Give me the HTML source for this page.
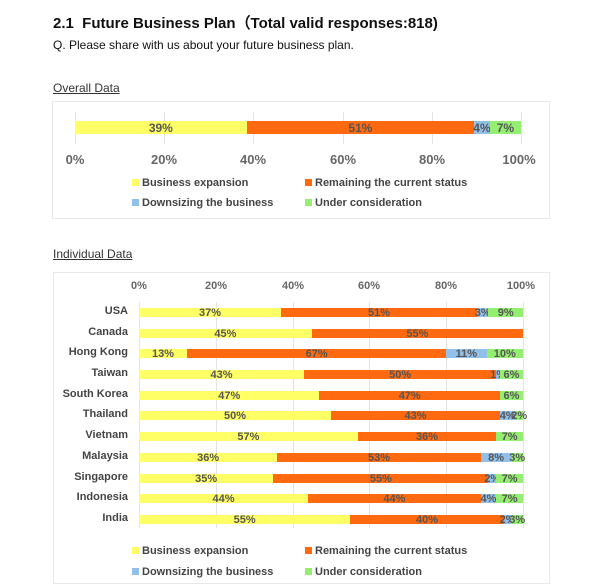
<!DOCTYPE html>
<html><head><meta charset="utf-8"><style>
body{margin:0;width:600px;height:580px;background:#fff;position:relative;overflow:hidden;font-family:"Liberation Sans","DejaVu Sans",sans-serif;color:#222}
.a{position:absolute}
.bar{position:absolute;display:flex;height:9px}
.bar div{height:100%;display:flex;align-items:center;justify-content:center;font-size:11px;font-weight:bold;color:#555;white-space:nowrap;overflow:visible}
.y{background:#ffff66}.o{background:#ff6a10}.b{background:#92c0e8}.g{background:#94ee70}
.lbl{position:absolute;right:472px;font-size:11px;font-weight:bold;color:#444;text-align:right;white-space:nowrap}
.tk{position:absolute;font-size:11px;font-weight:bold;color:#666;transform:translateX(-50%)}
.grid{position:absolute;width:1px;background:#e4e4e4}
.leg{position:absolute;font-size:11px;font-weight:bold;color:#444}
.leg i{display:inline-block;width:7px;height:7px;margin-right:3px}
</style></head><body>
<div class="a" style="left:53px;top:12px;font-size:15px;font-weight:bold;color:#111">2.1&nbsp; Future Business Plan（Total valid responses:818)</div>
<div class="a" style="left:53px;top:38px;font-size:12px;color:#111">Q. Please share with us about your future business plan.</div>
<div class="a" style="left:53px;top:81px;font-size:12px;color:#333;text-decoration:underline">Overall Data</div>
<div class="a" style="left:52px;top:101px;width:496px;height:116px;border:1px solid #e8e8e8"></div>
<div class="grid" style="left:75px;top:112px;height:32px"></div><div class="grid" style="left:164px;top:112px;height:32px"></div><div class="grid" style="left:253px;top:112px;height:32px"></div><div class="grid" style="left:343px;top:112px;height:32px"></div><div class="grid" style="left:432px;top:112px;height:32px"></div><div class="grid" style="left:521px;top:112px;height:32px"></div>
<div class="bar" style="left:75px;top:121px;width:446px;height:13px">
<div class="y" style="width:38.5%;font-size:12px">39%</div><div class="o" style="width:51%;font-size:12px">51%</div><div class="b" style="width:3.5%;font-size:12px">4%</div><div class="g" style="width:7%;font-size:12px">7%</div></div>
<div class="tk" style="left:75px;top:152px;font-size:13px">0%</div><div class="tk" style="left:164px;top:152px;font-size:13px">20%</div><div class="tk" style="left:253px;top:152px;font-size:13px">40%</div><div class="tk" style="left:343px;top:152px;font-size:13px">60%</div><div class="tk" style="left:432px;top:152px;font-size:13px">80%</div><div class="tk" style="left:519px;top:152px;font-size:13px">100%</div>
<div class="leg" style="left:132px;top:177px"><i class="y"></i>Business expansion</div>
<div class="leg" style="left:305px;top:177px"><i class="o"></i>Remaining the current status</div>
<div class="leg" style="left:132px;top:197px"><i class="b"></i>Downsizing the business</div>
<div class="leg" style="left:305px;top:197px"><i class="g"></i>Under consideration</div>

<div class="a" style="left:53px;top:247px;font-size:12px;color:#333;text-decoration:underline">Individual Data</div>
<div class="a" style="left:53px;top:272px;width:495px;height:310px;border:1px solid #e8e8e8"></div>
<div class="tk" style="left:139px;top:280px">0%</div><div class="tk" style="left:216px;top:280px">20%</div><div class="tk" style="left:293px;top:280px">40%</div><div class="tk" style="left:369px;top:280px">60%</div><div class="tk" style="left:446px;top:280px">80%</div><div class="tk" style="left:521px;top:280px">100%</div>
<div class="grid" style="left:139px;top:302px;height:226px"></div><div class="grid" style="left:216px;top:302px;height:226px"></div><div class="grid" style="left:293px;top:302px;height:226px"></div><div class="grid" style="left:369px;top:302px;height:226px"></div><div class="grid" style="left:446px;top:302px;height:226px"></div><div class="grid" style="left:523px;top:302px;height:226px"></div>

<div class="lbl" style="top:305px">USA</div>
<div class="bar" style="left:139px;top:308px;width:384px"><div class="y" style="width:37%">37%</div><div class="o" style="width:51%">51%</div><div class="b" style="width:3%">3%</div><div class="g" style="width:9%">9%</div></div>
<div class="lbl" style="top:326px">Canada</div>
<div class="bar" style="left:139px;top:329px;width:384px"><div class="y" style="width:45%">45%</div><div class="o" style="width:55%">55%</div></div>
<div class="lbl" style="top:346px">Hong Kong</div>
<div class="bar" style="left:139px;top:349px;width:384px"><div class="y" style="width:12.5%">13%</div><div class="o" style="width:67.5%">67%</div><div class="b" style="width:10.5%">11%</div><div class="g" style="width:9.5%">10%</div></div>
<div class="lbl" style="top:367px">Taiwan</div>
<div class="bar" style="left:139px;top:370px;width:384px"><div class="y" style="width:43%">43%</div><div class="o" style="width:50%">50%</div><div class="b" style="width:1%">1%</div><div class="g" style="width:6%">6%</div></div>
<div class="lbl" style="top:388px">South Korea</div>
<div class="bar" style="left:139px;top:391px;width:384px"><div class="y" style="width:47%">47%</div><div class="o" style="width:47%">47%</div><div class="g" style="width:6%">6%</div></div>
<div class="lbl" style="top:408px">Thailand</div>
<div class="bar" style="left:139px;top:411px;width:384px"><div class="y" style="width:50%">50%</div><div class="o" style="width:44%">43%</div><div class="b" style="width:4%">4%</div><div class="g" style="width:2%">2%</div></div>
<div class="lbl" style="top:429px">Vietnam</div>
<div class="bar" style="left:139px;top:432px;width:384px"><div class="y" style="width:57%">57%</div><div class="o" style="width:36%">36%</div><div class="g" style="width:7%">7%</div></div>
<div class="lbl" style="top:450px">Malaysia</div>
<div class="bar" style="left:139px;top:453px;width:384px"><div class="y" style="width:36%">36%</div><div class="o" style="width:53%">53%</div><div class="b" style="width:8%">8%</div><div class="g" style="width:3%">3%</div></div>
<div class="lbl" style="top:471px">Singapore</div>
<div class="bar" style="left:139px;top:474px;width:384px"><div class="y" style="width:35%">35%</div><div class="o" style="width:56%">55%</div><div class="b" style="width:2%">2%</div><div class="g" style="width:7%">7%</div></div>
<div class="lbl" style="top:491px">Indonesia</div>
<div class="bar" style="left:139px;top:494px;width:384px"><div class="y" style="width:44%">44%</div><div class="o" style="width:45%">44%</div><div class="b" style="width:4%">4%</div><div class="g" style="width:7%">7%</div></div>
<div class="lbl" style="top:512px">India</div>
<div class="bar" style="left:139px;top:515px;width:384px"><div class="y" style="width:55%">55%</div><div class="o" style="width:40%">40%</div><div class="b" style="width:2%">2%</div><div class="g" style="width:3%">3%</div></div>

<div class="leg" style="left:132px;top:545px"><i class="y"></i>Business expansion</div>
<div class="leg" style="left:305px;top:545px"><i class="o"></i>Remaining the current status</div>
<div class="leg" style="left:132px;top:566px"><i class="b"></i>Downsizing the business</div>
<div class="leg" style="left:305px;top:566px"><i class="g"></i>Under consideration</div>
</body></html>
